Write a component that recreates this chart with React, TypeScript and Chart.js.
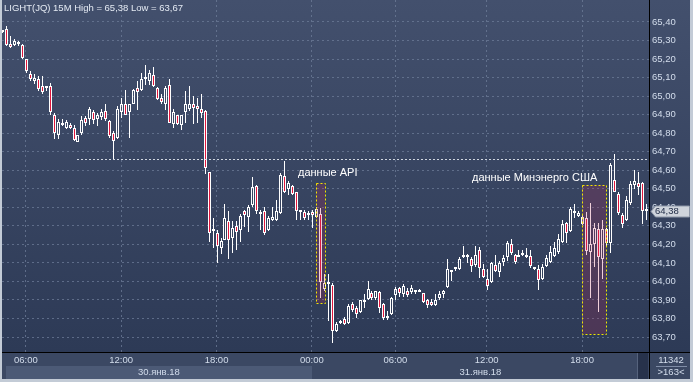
import React, { useEffect, useRef } from 'react';
import { Chart, registerables } from 'chart.js';

Chart.register(...registerables);

// ---- data (15-minute candles, LIGHT(JQ)) ----
const openPrices = [
  65.345, 65.36, 65.28, 65.275, 65.28, 65.275, 65.2, 65.12, 65.08, 65.09,
  65.055, 65.045, 65.055, 64.9, 64.79, 64.845, 64.83, 64.845, 64.83, 64.75,
  64.8, 64.88, 64.875, 64.915, 64.875, 64.885, 64.92, 64.865, 64.8, 64.775,
  64.915, 64.96, 64.915, 64.96, 65.045, 65.035, 65.1, 65.08, 65.115, 65.045,
  64.99, 64.96, 65.06, 64.85, 64.9, 64.845, 64.915, 64.93, 64.96, 64.945,
  64.93, 64.92, 64.59, 64.27, 64.26, 64.18, 64.225, 64.325, 64.235, 64.3,
  64.275, 64.38, 64.345, 64.41, 64.515, 64.375, 64.38, 64.275, 64.33, 64.33,
  64.37, 64.57, 64.5, 64.515, 64.48, 64.375, 64.375, 64.36, 64.375, 64.345,
  64.365, 63.96, 63.985, 63.98, 63.73, 63.775, 63.795, 63.775, 63.88, 63.855,
  63.835, 63.89, 63.905, 63.935, 63.91, 63.945, 63.88, 63.8, 63.825, 63.925,
  63.965, 63.93, 63.95, 63.945, 63.945, 63.955, 63.935, 63.9, 63.89, 63.875,
  63.91, 63.93, 63.97, 64.05, 64.065, 64.065, 64.13, 64.13, 64.12, 64.09,
  64.17, 64.065, 64.015, 63.995, 64.09, 64.05, 64.105, 64.13, 64.2, 64.14,
  64.13, 64.14, 64.13, 64.135, 64.075, 64.065, 64.015, 64.085, 64.105, 64.135,
  64.16, 64.215, 64.315, 64.27, 64.38, 64.355, 64.31, 64.34, 64.16, 64.2,
  64.285, 64.12, 64.285, 64.21, 64.545, 64.47, 64.36, 64.33, 64.425, 64.52,
  64.53, 64.53, 64.39,
];
const highPrices = [
  65.355, 65.38, 65.325, 65.31, 65.3, 65.28, 65.2, 65.135, 65.12, 65.11,
  65.11, 65.055, 65.07, 64.91, 64.875, 64.875, 64.87, 64.855, 64.845, 64.79,
  64.89, 64.89, 64.94, 64.925, 64.91, 64.93, 64.955, 64.87, 64.81, 64.945,
  64.99, 65.035, 64.955, 65.04, 65.08, 65.125, 65.17, 65.14, 65.155, 65.05,
  65.01, 65.055, 65.09, 64.93, 64.9, 64.9, 65.025, 65.055, 65.0, 64.99,
  65.01, 64.925, 64.59, 64.34, 64.275, 64.235, 64.42, 64.38, 64.325, 64.325,
  64.365, 64.385, 64.41, 64.565, 64.52, 64.385, 64.4, 64.355, 64.4, 64.44,
  64.585, 64.65, 64.54, 64.52, 64.485, 64.378, 64.385, 64.38, 64.385, 64.4,
  64.395, 64.04, 64.04, 63.99, 63.78, 63.79, 63.81, 63.88, 63.89, 63.865,
  63.9, 63.93, 64.0, 63.95, 63.95, 63.95, 63.885, 63.84, 63.915, 63.97,
  63.97, 63.985, 63.965, 63.98, 63.948, 63.958, 63.935, 63.905, 63.905, 63.93,
  63.95, 63.955, 64.12, 64.052, 64.075, 64.13, 64.19, 64.15, 64.13, 64.19,
  64.185, 64.095, 64.065, 64.105, 64.14, 64.11, 64.14, 64.22, 64.23, 64.15,
  64.17, 64.17, 64.18, 64.17, 64.08, 64.09, 64.095, 64.14, 64.19, 64.215,
  64.255, 64.33, 64.32, 64.4, 64.42, 64.38, 64.36, 64.375, 64.425, 64.315,
  64.315, 64.33, 64.29, 64.64, 64.685, 64.485, 64.37, 64.46, 64.54, 64.6,
  64.59, 64.535, 64.42,
];
const lowPrices = [
  65.34, 65.27, 65.26, 65.27, 65.27, 65.2, 65.125, 65.08, 65.065, 65.025,
  65.01, 65.03, 64.9, 64.77, 64.77, 64.84, 64.825, 64.825, 64.76, 64.75,
  64.79, 64.84, 64.845, 64.85, 64.84, 64.87, 64.865, 64.775, 64.66, 64.77,
  64.88, 64.9, 64.775, 64.955, 64.925, 65.03, 65.06, 65.06, 65.05, 64.98,
  64.955, 64.925, 64.855, 64.83, 64.845, 64.815, 64.855, 64.92, 64.85, 64.855,
  64.88, 64.58, 64.215, 64.18, 64.1, 64.15, 64.225, 64.12, 64.155, 64.17,
  64.215, 64.295, 64.265, 64.4, 64.365, 64.275, 64.25, 64.27, 64.325, 64.325,
  64.365, 64.475, 64.465, 64.465, 64.33, 64.33, 64.33, 64.33, 64.29, 64.34,
  63.91, 63.95, 63.785, 63.665, 63.725, 63.77, 63.765, 63.77, 63.835, 63.805,
  63.83, 63.855, 63.9, 63.9, 63.9, 63.83, 63.79, 63.79, 63.82, 63.9,
  63.915, 63.915, 63.915, 63.93, 63.93, 63.943, 63.885, 63.855, 63.87, 63.87,
  63.9, 63.91, 63.965, 64.0, 64.055, 64.06, 64.125, 64.1, 64.05, 64.08,
  64.02, 64.02, 63.955, 63.99, 64.05, 64.025, 64.085, 64.11, 64.145, 64.095,
  64.13, 64.135, 64.125, 64.075, 64.06, 63.955, 64.005, 64.08, 64.1, 64.13,
  64.15, 64.205, 64.21, 64.265, 64.34, 64.35, 64.305, 64.14, 63.91, 64.08,
  63.835, 64.015, 64.19, 64.155, 64.48, 64.36, 64.29, 64.325, 64.41, 64.5,
  64.465, 64.31, 64.33,
];
const closePrices = [
  65.35, 65.275, 65.265, 65.3, 65.29, 65.205, 65.135, 65.09, 65.1, 65.04,
  65.02, 65.05, 64.915, 64.8, 64.86, 64.848, 64.86, 64.83, 64.765, 64.79,
  64.87, 64.855, 64.93, 64.87, 64.9, 64.915, 64.875, 64.785, 64.76, 64.93,
  64.955, 64.9, 64.955, 65.035, 65.02, 65.09, 65.09, 65.125, 65.055, 64.985,
  64.97, 65.045, 64.855, 64.915, 64.85, 64.9, 64.955, 64.955, 64.935, 64.93,
  64.91, 64.61, 64.26, 64.275, 64.19, 64.22, 64.34, 64.225, 64.29, 64.265,
  64.355, 64.36, 64.4, 64.51, 64.38, 64.365, 64.26, 64.34, 64.35, 64.38,
  64.575, 64.485, 64.53, 64.47, 64.38, 64.378, 64.34, 64.365, 64.36, 64.39,
  63.995, 63.99, 63.99, 63.735, 63.77, 63.785, 63.77, 63.87, 63.845, 63.825,
  63.9, 63.9, 63.96, 63.91, 63.95, 63.855, 63.8, 63.815, 63.91, 63.96,
  63.935, 63.975, 63.925, 63.965, 63.948, 63.945, 63.89, 63.875, 63.875, 63.9,
  63.93, 63.95, 64.065, 64.052, 64.07, 64.12, 64.145, 64.14, 64.085, 64.145,
  64.075, 64.025, 63.975, 64.1, 64.055, 64.1, 64.125, 64.205, 64.155, 64.105,
  64.14, 64.145, 64.14, 64.085, 64.065, 64.01, 64.08, 64.125, 64.16, 64.18,
  64.23, 64.31, 64.26, 64.39, 64.37, 64.37, 64.35, 64.165, 64.2, 64.29,
  64.13, 64.285, 64.205, 64.63, 64.485, 64.37, 64.31, 64.44, 64.525, 64.54,
  64.51, 64.38, 64.38,
];

const priceTicks = [
  63.7, 63.8, 63.9, 64.0, 64.1, 64.2, 64.3, 64.4, 64.5, 64.6,
  64.7, 64.8, 64.9, 65.0, 65.1, 65.2, 65.3, 65.4,
];
const timeTickIndices = [6, 30, 54, 78, 99, 122, 146];
const timeTickLabels = ['06:00', '12:00', '18:00', '00:00', '06:00', '12:00', '18:00'];
const dateLabels = ['30.янв.18', '31.янв.18'];
const dateStartIndices = [1, 78];

const titleText = 'LIGHT(JQ) 15M High = 65,38 Low = 63,67';
const lastPrice = 64.38;
const volumeText = '11342';
const barCountText = '>163<';
const levelPrice = 64.658;
const levelStartIndex = 19;

const annotationTexts = ['данные API', 'данные Минэнерго США'];
const annotationIndices = [74.5, 118.3];
const annotationPrices = [64.585, 64.558];

const boxFromIndices = [79, 146.05];
const boxToIndices = [81.3, 152];
const boxTopPrices = [64.53, 64.52];
const boxBottomPrices = [63.885, 63.716];

// ---- styling ----
const FONT = "'Liberation Sans', Arial, sans-serif";
const AXIS_TEXT = '#d3ddec';
const GRID = 'rgba(110,124,152,0.75)';
const RED = '#e0163c';

const fmt = (v: number) => v.toFixed(2).replace('.', ',');

const drawingPlugin = {
  id: 'terminalFrame',
  beforeDraw(chart: any) {
    const { ctx, width, height, chartArea, scales } = chart;
    ctx.save();
    const g = ctx.createLinearGradient(0, 0, 0, chartArea.bottom);
    g.addColorStop(0, '#43506d');
    g.addColorStop(1, '#2d3a56');
    ctx.fillStyle = g;
    ctx.fillRect(0, 0, width, chartArea.bottom);
    // bottom strip
    ctx.fillStyle = '#3b4863';
    ctx.fillRect(0, chartArea.bottom, width, height - chartArea.bottom);
    // highlighted date band (first day)
    const xs = scales.x;
    const x0 = Math.round(xs.getPixelForValue(dateStartIndices[0]));
    const x1 = Math.round(xs.getPixelForValue(dateStartIndices[1]));
    ctx.fillStyle = '#4c5a76';
    ctx.fillRect(x0, 366, x1 - x0, 13);
    // scroll block
    ctx.fillStyle = '#27324b';
    ctx.fillRect(638, chartArea.bottom + 1, 10, 26);
    ctx.fillStyle = '#56637d';
    ctx.fillRect(637, chartArea.bottom + 1, 1, 26);
    ctx.restore();
  },
  beforeDatasetsDraw(chart: any) {
    // snap candle elements to whole pixels for crisp rendering
    chart.data.datasets.forEach((_d: any, di: number) => {
      const meta = chart.getDatasetMeta(di);
      meta.data.forEach((el: any) => {
        el.x = Math.round(el.x) + 0.5;
        el.y = Math.round(el.y);
        el.base = Math.round(el.base);
      });
    });
  },
  afterDatasetsDraw(chart: any) {
    const { ctx, chartArea, scales } = chart;
    const xs = scales.x;
    const ys = scales.y;
    ctx.save();
    ctx.beginPath();
    ctx.rect(chartArea.left, chartArea.top, chartArea.right - chartArea.left, chartArea.bottom - chartArea.top);
    ctx.clip();
    // event boxes
    for (let k = 0; k < boxFromIndices.length; k++) {
      const l = Math.round(xs.getPixelForValue(boxFromIndices[k]));
      const r = Math.round(xs.getPixelForValue(boxToIndices[k]));
      const t = Math.round(ys.getPixelForValue(boxTopPrices[k]));
      const b = Math.round(ys.getPixelForValue(boxBottomPrices[k]));
      ctx.fillStyle = 'rgba(185,40,85,0.22)';
      ctx.fillRect(l, t, r - l, b - t);
      ctx.setLineDash([2, 2]);
      ctx.strokeStyle = '#f2e600';
      ctx.lineWidth = 1;
      ctx.strokeRect(l + 0.5, t + 0.5, r - l, b - t);
    }
    // dotted level
    const ly = Math.round(ys.getPixelForValue(levelPrice)) + 0.5;
    ctx.setLineDash([2, 2]);
    ctx.strokeStyle = 'rgba(225,229,238,0.9)';
    ctx.beginPath();
    ctx.moveTo(Math.round(xs.getPixelForValue(levelStartIndex)), ly);
    ctx.lineTo(chartArea.right, ly);
    ctx.stroke();
    ctx.setLineDash([]);
    // annotations
    ctx.font = `11px ${FONT}`;
    ctx.fillStyle = '#ffffff';
    ctx.textBaseline = 'middle';
    ctx.textAlign = 'left';
    for (let k = 0; k < annotationTexts.length; k++) {
      ctx.fillText(annotationTexts[k], xs.getPixelForValue(annotationIndices[k]), ys.getPixelForValue(annotationPrices[k]));
    }
    ctx.restore();
    // title
    ctx.save();
    ctx.font = `9.5px ${FONT}`;
    ctx.fillStyle = '#e4eaf3';
    ctx.textBaseline = 'middle';
    ctx.textAlign = 'left';
    ctx.fillText(titleText, 4, 8);
    ctx.restore();
  },
  afterDraw(chart: any) {
    const { ctx, width, height, chartArea, scales } = chart;
    const xs = scales.x;
    const ys = scales.y;
    ctx.save();
    // separator lines
    ctx.fillStyle = '#000000';
    ctx.fillRect(Math.round(chartArea.right), 0, 1, height - 3);
    ctx.fillRect(2, Math.round(chartArea.bottom), width - 5, 1);
    // outer frame
    ctx.fillStyle = '#c3cbd6';
    ctx.fillRect(0, 0, 2, height);
    ctx.fillRect(width - 3, 0, 3, height);
    ctx.fillRect(0, height - 3, width, 3);
    // date labels
    ctx.font = `9.5px ${FONT}`;
    ctx.fillStyle = AXIS_TEXT;
    ctx.textAlign = 'center';
    ctx.textBaseline = 'middle';
    for (let k = 0; k < dateLabels.length; k++) {
      const a = xs.getPixelForValue(dateStartIndices[k]);
      const b = k + 1 < dateStartIndices.length ? xs.getPixelForValue(dateStartIndices[k + 1]) : chartArea.right;
      ctx.fillText(dateLabels[k], (a + b) / 2, 372);
    }
    // bottom-right counters
    ctx.fillText(volumeText, 671, 360);
    ctx.fillText(barCountText, 671, 372.5);
    ctx.fillStyle = '#7f8ca6';
    ctx.fillRect(656, 366, 31, 1);
    // last price marker
    const py = Math.round(ys.getPixelForValue(lastPrice)) + 0.5;
    ctx.beginPath();
    ctx.moveTo(651, py);
    ctx.lineTo(655.5, py - 5.5);
    ctx.lineTo(689.5, py - 5.5);
    ctx.lineTo(689.5, py + 5.5);
    ctx.lineTo(655.5, py + 5.5);
    ctx.closePath();
    ctx.fillStyle = '#cfd4dc';
    ctx.fill();
    ctx.strokeStyle = '#8d97a8';
    ctx.lineWidth = 1;
    ctx.stroke();
    ctx.fillStyle = '#1d2944';
    ctx.textAlign = 'left';
    ctx.font = `9.5px ${FONT}`;
    ctx.fillText(fmt(lastPrice), 655, py);
    ctx.restore();
  },
};

export default function App() {
  const canvasRef = useRef<HTMLCanvasElement | null>(null);

  useEffect(() => {
    const canvas = canvasRef.current;
    if (!canvas) return;
    const idx = openPrices.map((_, i) => i);
    const bodyData = idx.map((i) => ({ x: i, y: [openPrices[i], closePrices[i]] }));
    const upperWicks = idx.map((i) => ({
      x: i,
      y: [Math.max(openPrices[i], closePrices[i]), highPrices[i]],
    }));
    const lowerWicks = idx.map((i) => ({
      x: i,
      y: [lowPrices[i], Math.min(openPrices[i], closePrices[i])],
    }));
    const bodyColors = idx.map((i) => (closePrices[i] < openPrices[i] ? RED : 'rgba(0,0,0,0)'));

    const yPxPerUnit = 185.3;
    const chart = new Chart(canvas, {
      type: 'bar',
      data: {
        datasets: [
          {
            label: 'body',
            data: bodyData as any,
            backgroundColor: bodyColors,
            borderColor: '#ffffff',
            borderWidth: 1,
            borderSkipped: false,
            barThickness: 3,
            grouped: false,
            inflateAmount: 0,
            minBarLength: 2,
          } as any,
          {
            label: 'upper',
            data: upperWicks as any,
            backgroundColor: '#ffffff',
            borderWidth: 0,
            barThickness: 1,
            grouped: false,
            inflateAmount: 0,
          } as any,
          {
            label: 'lower',
            data: lowerWicks as any,
            backgroundColor: '#ffffff',
            borderWidth: 0,
            barThickness: 1,
            grouped: false,
            inflateAmount: 0,
          } as any,
        ],
      },
      options: {
        responsive: false,
        animation: false,
        devicePixelRatio: 1,
        events: [],
        layout: { padding: { left: 2, right: 3, top: 0, bottom: 3 } },
        plugins: {
          legend: { display: false },
          tooltip: { enabled: false },
          title: { display: false },
        },
        scales: {
          x: {
            type: 'linear',
            position: 'bottom',
            min: 0,
            max: 162.85,
            offset: false,
            afterBuildTicks: (s: any) => {
              s.ticks = timeTickIndices.map((v) => ({ value: v }));
            },
            afterFit: (s: any) => {
              s.height = 27;
              s.paddingLeft = 0;
              s.paddingRight = 0;
            },
            ticks: {
              autoSkip: false,
              maxRotation: 0,
              minRotation: 0,
              padding: 3,
              color: AXIS_TEXT,
              font: { family: FONT, size: 9.5 },
              callback: (_v: any, i: number) => timeTickLabels[i],
            },
            grid: { color: GRID, drawTicks: false, offset: false, lineWidth: 1 },
            border: { display: false, dash: [2, 3] },
          },
          y: {
            type: 'linear',
            position: 'right',
            min: 63.7 - 15 / yPxPerUnit,
            max: 65.4 + 22 / yPxPerUnit,
            afterBuildTicks: (s: any) => {
              s.ticks = priceTicks.map((v) => ({ value: v }));
            },
            afterFit: (s: any) => {
              s.width = 41;
              s.paddingTop = 0;
              s.paddingBottom = 0;
            },
            ticks: {
              padding: 3,
              color: AXIS_TEXT,
              font: { family: FONT, size: 9.5 },
              callback: (v: any) => fmt(Number(v)),
            },
            grid: { color: GRID, drawTicks: false, lineWidth: 1 },
            border: { display: false, dash: [2, 3] },
          },
        },
      } as any,
      plugins: [drawingPlugin],
    });
    return () => chart.destroy();
  }, []);

  return (
    <div style={{ position: 'absolute', left: 0, top: 0, width: 693, height: 382 }}>
      <canvas ref={canvasRef} width={693} height={382} style={{ display: 'block' }} />
    </div>
  );
}
